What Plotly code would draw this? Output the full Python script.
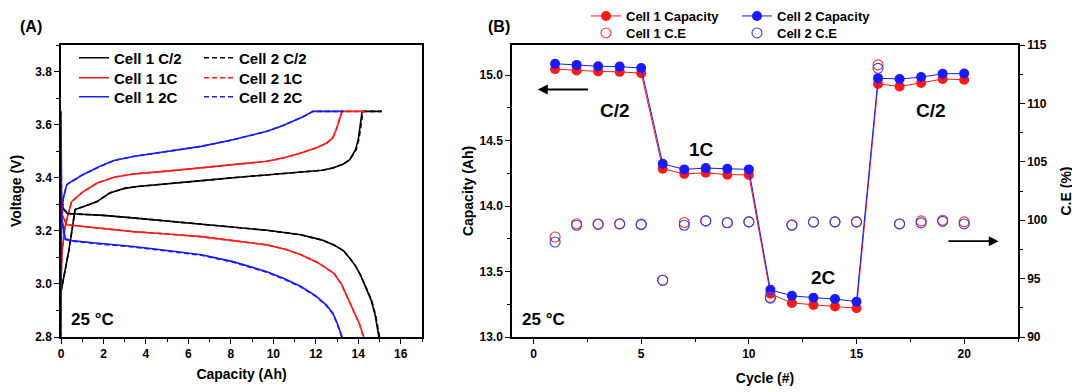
import plotly.graph_objects as go

# ---------------- Panel A data (capacity Ah, voltage V) ----------------
c1_c2_chg_cap = [0, 0.2, 0.38, 0.55, 0.66, 1.2, 1.7, 2.3, 3.0, 3.6, 5.0, 6.5, 8.1, 9.7, 11.3, 12.3, 12.8, 13.3, 13.6, 13.87, 14.0, 14.1, 14.18, 15.1]
c1_c2_chg_v = [2.97, 3.05, 3.13, 3.22, 3.28, 3.295, 3.31, 3.343, 3.36, 3.367, 3.376, 3.388, 3.40, 3.41, 3.419, 3.428, 3.437, 3.452, 3.468, 3.506, 3.545, 3.606, 3.65, 3.65]
c2_c2_chg_cap = [0, 0.2, 0.38, 0.55, 0.66, 1.2, 1.7, 2.3, 3.0, 3.6, 5.0, 6.5, 8.1, 9.7, 11.3, 12.3, 12.8, 13.3, 13.6, 13.9, 14.03, 14.13, 14.22, 15.1]
c2_c2_chg_v = [2.97, 3.05, 3.13, 3.22, 3.28, 3.295, 3.31, 3.343, 3.36, 3.367, 3.376, 3.388, 3.40, 3.41, 3.419, 3.428, 3.437, 3.452, 3.468, 3.506, 3.545, 3.606, 3.65, 3.65]

c1_1c_chg_cap = [0, 0.05, 0.2, 0.5, 1.0, 1.7, 2.5, 3.4, 5.0, 6.6, 8.1, 9.7, 10.5, 11.3, 12.0, 12.5, 12.8, 13.0, 13.15, 13.24, 14.3]
c1_1c_chg_v = [3.02, 3.12, 3.22, 3.31, 3.345, 3.38, 3.402, 3.414, 3.425, 3.437, 3.448, 3.462, 3.475, 3.493, 3.512, 3.53, 3.55, 3.59, 3.63, 3.65, 3.65]
c2_1c_chg_cap = [0, 0.05, 0.2, 0.5, 1.0, 1.7, 2.5, 3.4, 5.0, 6.6, 8.1, 9.7, 10.5, 11.3, 12.0, 12.5, 12.8, 13.0, 13.15, 13.24, 14.3]
c2_1c_chg_v = [3.02, 3.12, 3.22, 3.31, 3.345, 3.38, 3.402, 3.414, 3.425, 3.437, 3.448, 3.462, 3.475, 3.493, 3.512, 3.53, 3.55, 3.59, 3.63, 3.65, 3.65]

c1_2c_chg_cap = [0, 0.02, 0.1, 0.27, 0.5, 1.0, 1.84, 2.5, 3.4, 5.0, 6.6, 8.1, 9.0, 9.7, 10.4, 10.9, 11.4, 11.87, 13.3]
c1_2c_chg_v = [2.8, 3.2, 3.32, 3.374, 3.386, 3.41, 3.443, 3.465, 3.48, 3.50, 3.518, 3.543, 3.56, 3.575, 3.595, 3.612, 3.63, 3.65, 3.65]
c2_2c_chg_cap = [0, 0.02, 0.1, 0.27, 0.5, 1.0, 1.84, 2.5, 3.4, 5.0, 6.6, 8.1, 9.0, 9.7, 10.4, 10.9, 11.4, 11.87, 13.3]
c2_2c_chg_v = [2.8, 3.2, 3.32, 3.374, 3.386, 3.41, 3.443, 3.465, 3.48, 3.50, 3.518, 3.543, 3.56, 3.575, 3.595, 3.612, 3.63, 3.65, 3.65]

c1_c2_dis_cap = [0, 0.05, 0.3, 1.0, 2.0, 3.5, 5.0, 6.5, 8.1, 9.7, 11.3, 12.3, 12.85, 13.3, 13.6, 13.85, 14.1, 14.35, 14.6, 14.8, 14.97]
c1_c2_dis_v = [3.34, 3.29, 3.265, 3.262, 3.258, 3.248, 3.237, 3.226, 3.216, 3.202, 3.185, 3.165, 3.147, 3.125, 3.097, 3.07, 3.034, 2.99, 2.94, 2.88, 2.8]
c2_c2_dis_cap = [0, 0.05, 0.3, 1.0, 2.0, 3.5, 5.0, 6.5, 8.1, 9.7, 11.3, 12.3, 12.85, 13.3, 13.6, 13.85, 14.1, 14.35, 14.62, 14.82, 15.0]
c2_c2_dis_v = [3.34, 3.29, 3.265, 3.262, 3.258, 3.248, 3.237, 3.226, 3.216, 3.202, 3.185, 3.165, 3.147, 3.125, 3.097, 3.07, 3.034, 2.99, 2.94, 2.88, 2.8]

c1_1c_dis_cap = [0, 0.05, 0.27, 1.5, 3.4, 5.0, 6.6, 8.1, 9.7, 10.6, 11.3, 12.1, 12.85, 13.2, 13.47, 13.8, 14.05, 14.26]
c1_1c_dis_v = [3.36, 3.26, 3.223, 3.212, 3.197, 3.188, 3.178, 3.163, 3.147, 3.13, 3.11, 3.08, 3.04, 3.0, 2.952, 2.9, 2.85, 2.8]
c2_1c_dis_cap = [0, 0.05, 0.27, 1.5, 3.4, 5.0, 6.6, 8.1, 9.7, 10.6, 11.3, 12.1, 12.85, 13.2, 13.47, 13.8, 14.05, 14.24]
c2_1c_dis_v = [3.36, 3.26, 3.223, 3.212, 3.197, 3.188, 3.178, 3.163, 3.147, 3.13, 3.11, 3.08, 3.04, 3.0, 2.952, 2.9, 2.85, 2.8]

c1_2c_dis_cap = [0, 0.03, 0.2, 0.5, 1.5, 3.4, 5.0, 6.6, 8.1, 9.7, 10.5, 11.3, 12.0, 12.5, 12.8, 13.0, 13.24]
c1_2c_dis_v = [3.65, 3.25, 3.17, 3.163, 3.155, 3.141, 3.126, 3.11, 3.084, 3.046, 3.02, 2.99, 2.955, 2.92, 2.89, 2.853, 2.8]
c2_2c_dis_cap = [0, 0.03, 0.2, 0.5, 1.5, 3.4, 5.0, 6.6, 8.1, 9.7, 10.5, 11.3, 12.0, 12.5, 12.8, 13.0, 13.22]
c2_2c_dis_v = [3.65, 3.25, 3.168, 3.161, 3.153, 3.139, 3.124, 3.108, 3.082, 3.044, 3.018, 2.988, 2.953, 2.918, 2.888, 2.851, 2.8]

# ---------------- Panel B data ----------------
cycles = list(range(1, 21))
cell1_capacity = [15.046, 15.035, 15.028, 15.025, 15.015,
                  14.285, 14.246, 14.254, 14.240, 14.238,
                  13.33, 13.26, 13.244, 13.233, 13.22,
                  14.933, 14.913, 14.940, 14.970, 14.965]
cell2_capacity = [15.087, 15.078, 15.068, 15.065, 15.054,
                  14.323, 14.280, 14.290, 14.285, 14.280,
                  13.36, 13.315, 13.30, 13.29, 13.27,
                  14.977, 14.970, 14.985, 15.010, 15.012]
cell1_ce = [98.56, 99.70, 99.68, 99.70, 99.66, 94.86, 99.80, 99.94, 99.80, 99.86,
            93.40, 99.60, 99.84, 99.86, 99.86, 113.3, 99.68, 99.94, 100.00, 99.86]
cell2_ce = [98.13, 99.57, 99.65, 99.67, 99.62, 94.86, 99.57, 99.94, 99.78, 99.86,
            93.33, 99.57, 99.84, 99.86, 99.86, 113.0, 99.68, 99.77, 99.90, 99.68]

BLACK = "#000000"
RED = "#ff1a1a"
BLUE = "#1a1aff"
FONT = "Liberation Sans, Arial, sans-serif"
DASH = "5px,3px"

# The page body has an 8px margin: the figure is 1072x384 and starts at (8, 8).
OFF, FW, FH = 8, 1072, 384
def X(px):
    return (px - OFF) / FW
def Y(py):
    return 1 - (py - OFF) / FH

fig = go.Figure()

def add_a(x, y, color, dash, name=None, legend=None):
    kw = dict(name=name, legend=legend) if name else dict(showlegend=False)
    fig.add_trace(go.Scatter(x=x, y=y, mode="lines", line=dict(color=color, width=1.6, dash=dash),
                             xaxis="x", yaxis="y", **kw))

add_a(c1_c2_chg_cap, c1_c2_chg_v, BLACK, "solid", "Cell 1 C/2", "legend")
add_a(c2_c2_chg_cap, c2_c2_chg_v, BLACK, DASH, "Cell 2 C/2", "legend")
add_a(c1_1c_chg_cap, c1_1c_chg_v, RED, "solid", "Cell 1 1C", "legend2")
add_a(c2_1c_chg_cap, c2_1c_chg_v, RED, DASH, "Cell 2 1C", "legend2")
add_a(c1_2c_chg_cap, c1_2c_chg_v, BLUE, "solid", "Cell 1 2C", "legend3")
add_a(c2_2c_chg_cap, c2_2c_chg_v, BLUE, DASH, "Cell 2 2C", "legend3")
add_a(c1_c2_dis_cap, c1_c2_dis_v, BLACK, "solid")
add_a(c2_c2_dis_cap, c2_c2_dis_v, BLACK, DASH)
add_a(c1_1c_dis_cap, c1_1c_dis_v, RED, "solid")
add_a(c2_1c_dis_cap, c2_1c_dis_v, RED, DASH)
add_a(c1_2c_dis_cap, c1_2c_dis_v, BLUE, "solid")
add_a(c2_2c_dis_cap, c2_2c_dis_v, BLUE, DASH)

fig.add_trace(go.Scatter(x=cycles, y=cell1_ce, mode="markers", name="Cell 1 C.E",
                         marker=dict(symbol="circle-open", size=10, color="#ff3333", line=dict(width=1.1)),
                         legend="legend5", xaxis="x2", yaxis="y3"))
fig.add_trace(go.Scatter(x=cycles, y=cell2_ce, mode="markers", name="Cell 2 C.E",
                         marker=dict(symbol="circle-open", size=10, color="#3b3bdd", line=dict(width=1.1)),
                         legend="legend5", xaxis="x2", yaxis="y3"))
fig.add_trace(go.Scatter(x=cycles, y=cell1_capacity, mode="lines+markers", name="Cell 1 Capacity",
                         line=dict(color=RED, width=1), marker=dict(size=10, color=RED),
                         legend="legend4", xaxis="x2", yaxis="y2"))
fig.add_trace(go.Scatter(x=cycles, y=cell2_capacity, mode="lines+markers", name="Cell 2 Capacity",
                         line=dict(color=BLUE, width=1), marker=dict(size=10, color=BLUE),
                         legend="legend4", xaxis="x2", yaxis="y2"))

axcommon = dict(showline=True, linecolor="black", linewidth=1.5, showgrid=False, zeroline=False,
                automargin=False,
                ticks="outside", ticklen=5, tickwidth=1.3, tickcolor="black",
                tickfont=dict(family=FONT, size=12, color="black", weight="bold"),
                title_font=dict(family=FONT, size=14, color="black", weight="bold"))

XA = [X(61), X(422)]
XB = [X(512), X(1018)]
YD = [Y(337), Y(45)]
fig.update_layout(
    width=FW, height=FH, margin=dict(l=0, r=0, t=0, b=0, autoexpand=False),
    plot_bgcolor="white", paper_bgcolor="white",
    xaxis=dict(**axcommon, domain=XA, anchor="y", range=[0, 17],
               tick0=0, dtick=2, mirror=True,
               minor=dict(dtick=1, ticks="outside", ticklen=3, tickcolor="black"),
               title=dict(text="Capacity (Ah)", standoff=9)),
    yaxis=dict(**axcommon, domain=YD, anchor="x", range=[2.8, 3.9], tick0=2.8, dtick=0.2,
               tickformat=".1f", mirror=True,
               minor=dict(dtick=0.1, ticks="outside", ticklen=3, tickcolor="black"),
               title=dict(text="Voltage (V)", standoff=14)),
    xaxis2=dict(**axcommon, domain=XB, anchor="y2", range=[-1, 22.5],
                tick0=0, dtick=5, mirror=True,
                minor=dict(dtick=2.5, ticks="outside", ticklen=3, tickcolor="black"),
                title=dict(text="Cycle (#)", standoff=13)),
    xaxis3=dict(domain=XB, anchor="y2", overlaying="x2", side="top",
                range=[-1, 22.5], tick0=0, dtick=2.5, ticks="inside", ticklen=4, tickwidth=1.3,
                tickcolor="black", showticklabels=False, showgrid=False, zeroline=False, showline=False,
                automargin=False),
    yaxis2=dict(**axcommon, domain=YD, anchor="x2", range=[13.0, 15.23], tick0=13.0, dtick=0.5,
                tickformat=".1f",
                minor=dict(dtick=0.25, ticks="outside", ticklen=3, tickcolor="black"),
                title=dict(text="Capacity (Ah)", standoff=3)),
    yaxis3=dict(**axcommon, domain=YD, anchor="x2", overlaying="y2", side="right",
                range=[90, 115], tick0=90, dtick=5,
                minor=dict(dtick=2.5, ticks="outside", ticklen=3, tickcolor="black"),
                title=dict(text="C.E (%)", standoff=15)),
    showlegend=True,
)

def hleg(x_px, y_px, size, entrywidth):
    return dict(x=X(x_px), y=Y(y_px), xref="container", yref="container",
                xanchor="left", yanchor="middle",
                orientation="h", bgcolor="rgba(0,0,0,0)", traceorder="normal",
                font=dict(family=FONT, size=size, color="black", weight="bold"),
                itemwidth=30, entrywidth=entrywidth, entrywidthmode="pixels")

fig.update_layout(
    legend=hleg(74, 58, 15, 80),
    legend2=hleg(74, 78, 15, 80),
    legend3=hleg(74, 97, 15, 80),
    legend4=hleg(586, 16, 13, 106),
    legend5=hleg(586, 33, 13, 106),
)

bold = dict(family=FONT, color="black", weight="bold")
ann = [
    dict(text="(A)", x=X(18), y=Y(26), xref="paper", yref="paper", showarrow=False,
         xanchor="left", yanchor="middle", font=dict(**bold, size=16)),
    dict(text="(B)", x=X(486), y=Y(26), xref="paper", yref="paper", showarrow=False,
         xanchor="left", yanchor="middle", font=dict(**bold, size=16)),
    dict(text="25 \u00b0C", x=0.4, y=2.865, xref="x", yref="y", showarrow=False,
         xanchor="left", yanchor="middle", font=dict(**bold, size=17)),
    dict(text="25 \u00b0C", x=-0.65, y=13.13, xref="x2", yref="y2", showarrow=False,
         xanchor="left", yanchor="middle", font=dict(**bold, size=17)),
    dict(text="C/2", x=3.78, y=14.73, xref="x2", yref="y2", showarrow=False, font=dict(**bold, size=19)),
    dict(text="1C", x=7.8, y=14.43, xref="x2", yref="y2", showarrow=False, font=dict(**bold, size=19)),
    dict(text="2C", x=13.45, y=13.456, xref="x2", yref="y2", showarrow=False, font=dict(**bold, size=19)),
    dict(text="C/2", x=18.45, y=14.73, xref="x2", yref="y2", showarrow=False, font=dict(**bold, size=19)),
    dict(text="", x=0.2, y=14.89, ax=2.6, ay=14.89, xref="x2", yref="y2", axref="x2", ayref="y2",
         showarrow=True, arrowhead=2, arrowsize=1.1, arrowwidth=1.8, arrowcolor="black"),
    dict(text="", x=21.6, y=98.2, ax=19.2, ay=98.2, xref="x2", yref="y3", axref="x2", ayref="y3",
         showarrow=True, arrowhead=2, arrowsize=1.1, arrowwidth=1.8, arrowcolor="black"),
]
fig.update_layout(annotations=ann)

fig.write_html("out.html")
